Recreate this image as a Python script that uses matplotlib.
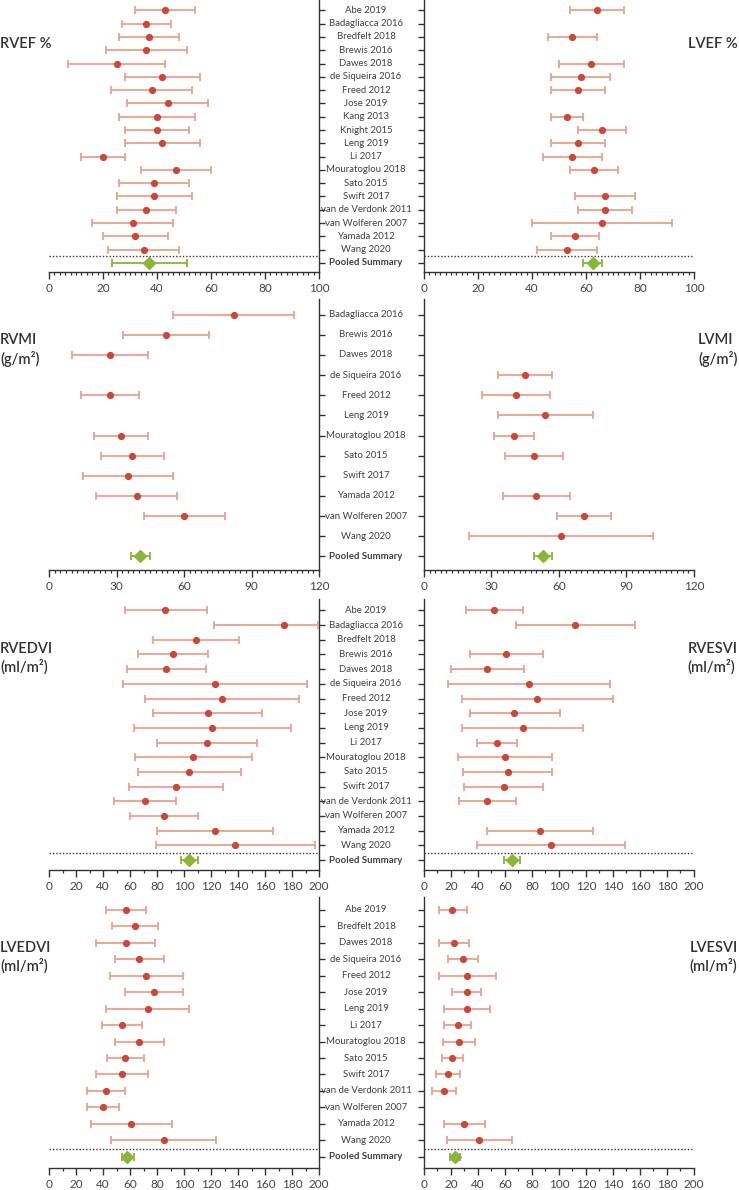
import numpy as np
import matplotlib.pyplot as plt
from matplotlib.ticker import MultipleLocator
from matplotlib.transforms import blended_transform_factory

plt.rcParams['font.family'] = ['Lato', 'DejaVu Sans']

RED = '#c8493b'
SALMON = '#e9a08e'
GREEN = '#8ab43a'
DARK = '#333333'
nan = np.nan

# ---- row 1: ejection fraction ----
ef_studies = ["Abe 2019", "Badagliacca 2016", "Bredfelt 2018", "Brewis 2016", "Dawes 2018",
              "de Siqueira 2016", "Freed 2012", "Jose 2019", "Kang 2013", "Knight 2015",
              "Leng 2019", "Li 2017", "Mouratoglou 2018", "Sato 2015", "Swift 2017",
              "van de Verdonk 2011", "van Wolferen 2007", "Yamada 2012", "Wang 2020",
              "Pooled Summary"]
rvef_mean = [43, 36, 37, 36, 25, 42, 38, 44, 40, 40, 42, 20, 47, 39, 39, 36, 31, 32, 35, 37]
rvef_lo = [32, 27, 26, 21, 7, 28, 23, 29, 26, 28, 28, 12, 34, 26, 25, 25, 16, 20, 22, 23.5]
rvef_hi = [54, 45, 48, 51, 43, 56, 53, 59, 54, 52, 56, 28, 60, 52, 53, 47, 46, 44, 48, 51]
lvef_mean = [64, nan, 55, nan, 62, 58, 57, nan, 53, 66, 57, 55, 63, nan, 67, 67, 66, 56, 53, 62.5]
lvef_lo = [54, nan, 46, nan, 50, 47, 47, nan, 47, 57, 47, 44, 54, nan, 56, 57, 40, 47, 42, 59]
lvef_hi = [74, nan, 64, nan, 74, 69, 67, nan, 59, 75, 67, 66, 72, nan, 78, 77, 92, 65, 64, 66]

# ---- row 2: mass index ----
mi_studies = ["Badagliacca 2016", "Brewis 2016", "Dawes 2018", "de Siqueira 2016", "Freed 2012",
              "Leng 2019", "Mouratoglou 2018", "Sato 2015", "Swift 2017", "Yamada 2012",
              "van Wolferen 2007", "Wang 2020", "Pooled Summary"]
rvmi_mean = [82, 52, 27, nan, 27, nan, 32, 37, 35, 39, 60, nan, 40.5]
rvmi_lo = [55, 33, 10, nan, 14, nan, 20, 23, 15, 21, 42, nan, 36.5]
rvmi_hi = [109, 71, 44, nan, 40, nan, 44, 51, 55, 57, 78, nan, 45]
lvmi_mean = [nan, nan, nan, 45, 41, 54, 40, 49, nan, 50, 71, 61, 53]
lvmi_lo = [nan, nan, nan, 33, 26, 33, 31, 36, nan, 35, 59, 20, 49]
lvmi_hi = [nan, nan, nan, 57, 56, 75, 49, 62, nan, 65, 83, 102, 57]

# ---- row 3: RV volumes ----
rv_studies = ["Abe 2019", "Badagliacca 2016", "Bredfelt 2018", "Brewis 2016", "Dawes 2018",
              "de Siqueira 2016", "Freed 2012", "Jose 2019", "Leng 2019", "Li 2017",
              "Mouratoglou 2018", "Sato 2015", "Swift 2017", "van de Verdonk 2011",
              "van Wolferen 2007", "Yamada 2012", "Wang 2020", "Pooled Summary"]
rvedvi_mean = [86, 174, 109, 92, 87, 123, 128, 117.5, 121, 117, 107, 104, 94, 71, 85, 123, 138, 104]
rvedvi_lo = [56, 122, 77, 66, 58, 55, 71, 77, 63, 80, 64, 66, 59, 48, 60, 80, 79, 97.5]
rvedvi_hi = [117, 199, 141, 118, 116, 191, 185, 158, 179, 154, 150, 142, 129, 94, 110, 166, 197, 110]
rvesvi_mean = [52, 112, nan, 61, 47, 78, 84, 67, 73, 54, 60, 62, 59, 47, nan, 86, 94, 65]
rvesvi_lo = [31, 68, nan, 34, 20, 18, 28, 34, 28, 39, 25, 29, 30, 26, nan, 47, 39, 59]
rvesvi_hi = [73, 156, nan, 88, 74, 138, 140, 101, 118, 69, 95, 95, 88, 68, nan, 125, 149, 71]

# ---- row 4: LV volumes ----
lv_studies = ["Abe 2019", "Bredfelt 2018", "Dawes 2018", "de Siqueira 2016", "Freed 2012",
              "Jose 2019", "Leng 2019", "Li 2017", "Mouratoglou 2018", "Sato 2015",
              "Swift 2017", "van de Verdonk 2011", "van Wolferen 2007", "Yamada 2012",
              "Wang 2020", "Pooled Summary"]
lvedvi_mean = [57, 64, 57, 67, 72, 77.5, 73, 54, 67, 56, 54, 42, 40, 61, 85, 58]
lvedvi_lo = [42, 47, 35, 49, 45, 56, 42, 39, 49, 43, 35, 28, 28, 31, 46, 54]
lvedvi_hi = [72, 81, 78.5, 85, 99, 99, 104, 69, 85, 70, 73, 56, 52, 91, 124, 63]
lvesvi_mean = [21, nan, 22, 29, 32, 32, 32, 25, 26, 21, 18, 15, nan, 30, 41, 23]
lvesvi_lo = [11, nan, 11, 18, 11, 21, 15, 15, 14, 13, 9, 6, nan, 15, 17, 19]
lvesvi_hi = [32, nan, 33, 40, 53, 42.5, 49, 35, 38, 29, 27, 24, nan, 45, 65, 27]


def panel(ax, labels, mean, lo, hi, xmax, major, minor, side, dotted):
    n = len(labels)
    mean, lo, hi = np.array(mean, float), np.array(lo, float), np.array(hi, float)
    y = np.arange(n)
    ok = ~np.isnan(mean[:-1])
    ys, ms, ls, hs = y[:-1][ok], mean[:-1][ok], lo[:-1][ok], hi[:-1][ok]
    ax.errorbar(ms, ys, xerr=[ms - ls, hs - ms], fmt='o', ms=4.2, mfc=RED, mec=RED,
                ecolor=SALMON, elinewidth=1.3, capsize=3, capthick=1.3, zorder=3)
    ax.errorbar([mean[-1]], [y[-1]], xerr=[[mean[-1] - lo[-1]], [hi[-1] - mean[-1]]],
                fmt='D', ms=6, mfc=GREEN, mec=GREEN, ecolor=GREEN, elinewidth=1.3,
                capsize=3, capthick=1.3, zorder=3)
    if dotted:
        ax.axhline(n - 1.5, color=DARK, lw=1.0, ls=(0, (1, 1.4)))
    ax.set_xlim(0, xmax)
    ax.set_ylim(n - 1 + 0.68, -0.78)
    ax.xaxis.set_major_locator(MultipleLocator(major))
    ax.xaxis.set_minor_locator(MultipleLocator(minor))
    ax.set_yticks(y)
    ax.set_yticklabels([])
    ax.spines['top'].set_visible(False)
    if side == 'left':
        ax.spines['left'].set_visible(False)
        ax.yaxis.tick_right()
    else:
        ax.spines['right'].set_visible(False)
        ax.yaxis.tick_left()
    for s in ax.spines.values():
        s.set_color(DARK)
        s.set_linewidth(1.0)
    ax.tick_params(axis='x', which='major', length=5, width=1.0, color=DARK,
                   labelsize=8.5, labelcolor='#444444', pad=3)
    ax.tick_params(axis='x', which='minor', length=2.5, width=0.9, color=DARK)
    ax.tick_params(axis='y', length=4.5, width=1.0, color=DARK)
    if side == 'left':
        tr = blended_transform_factory(fig.transFigure, ax.transData)
        for i, lab in enumerate(labels):
            bold = lab == "Pooled Summary"
            ax.text(366 / 739, i, lab, transform=tr, ha='center', va='center',
                    fontsize=6.9, color='#404040', fontweight='bold' if bold else 'normal')


fig = plt.figure(figsize=(7.39, 11.9), dpi=100)
W, H = 739, 1190
rows = [(0, 272), (299, 570), (599, 870), (897, 1168)]
lx0, lx1 = 49, 319
rx0, rx1 = 424, 694


def make_ax(x0, x1, top, bot):
    return fig.add_axes([x0 / W, 1 - bot / H, (x1 - x0) / W, (bot - top) / H])


panels = [
    (ef_studies, (rvef_mean, rvef_lo, rvef_hi), (lvef_mean, lvef_lo, lvef_hi), 100, 20, 2, True,
     "RVEF %", "LVEF %", 44),
    (mi_studies, (rvmi_mean, rvmi_lo, rvmi_hi), (lvmi_mean, lvmi_lo, lvmi_hi), 120, 30, 2.5, False,
     "RVMI\n(g/m²)", "LVMI\n(g/m²)", 350),
    (rv_studies, (rvedvi_mean, rvedvi_lo, rvedvi_hi), (rvesvi_mean, rvesvi_lo, rvesvi_hi), 200, 20, 10, True,
     "RVEDVI\n(ml/m²)", "RVESVI\n(ml/m²)", 658),
    (lv_studies, (lvedvi_mean, lvedvi_lo, lvedvi_hi), (lvesvi_mean, lvesvi_lo, lvesvi_hi), 200, 20, 10, True,
     "LVEDVI\n(ml/m²)", "LVESVI\n(ml/m²)", 957),
]

for (top, bot), (labels, left, right, xmax, major, minor, dotted, ltitle, rtitle, ty) in zip(rows, panels):
    axl = make_ax(lx0, lx1, top, bot)
    panel(axl, labels, *left, xmax, major, minor, 'left', dotted)
    axr = make_ax(rx0, rx1, top, bot)
    panel(axr, labels, *right, xmax, major, minor, 'right', dotted)
    fig.text(0.0, 1 - ty / H, ltitle, ha='left', va='center', fontsize=10.5,
             fontweight='semibold', color=DARK, linespacing=1.25)
    fig.text(0.998, 1 - ty / H, rtitle, ha='right', va='center', multialignment='left',
             fontsize=10.5, fontweight='semibold', color=DARK, linespacing=1.25)

fig.savefig('out.png', dpi=100)
